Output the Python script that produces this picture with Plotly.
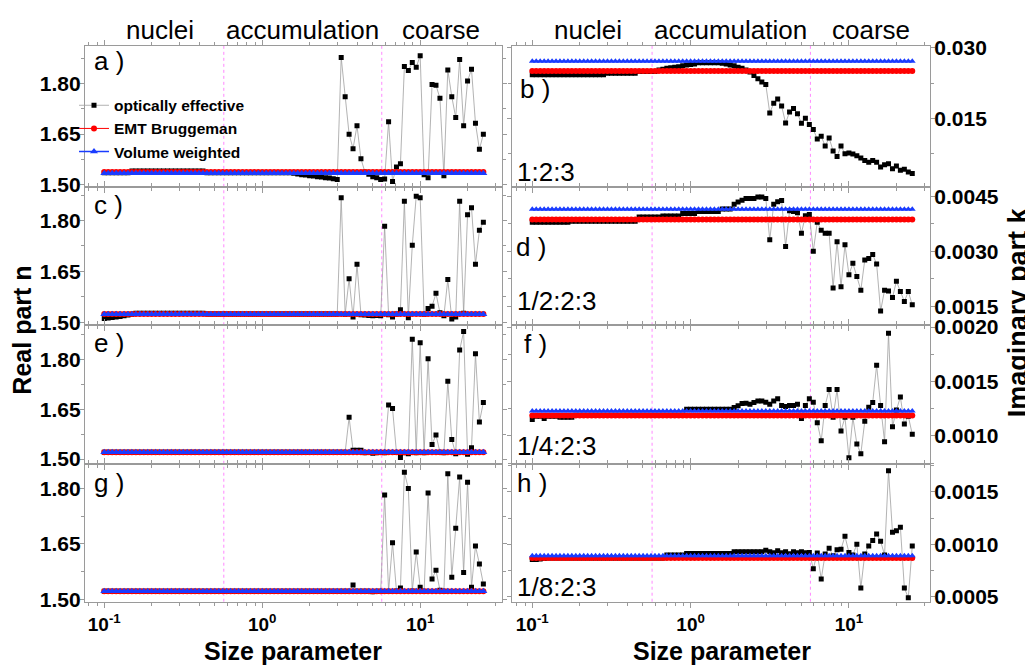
import plotly.graph_objects as go

# ---------------- data ----------------
SIZE_PARAM = [0.1, 0.1059, 0.1122, 0.1189, 0.1259, 0.1334, 0.1413, 0.1496, 0.1585, 0.1679,
              0.1778, 0.1884, 0.1995, 0.2113, 0.2239, 0.2371, 0.2512, 0.2661, 0.2818, 0.2985,
              0.3162, 0.335, 0.3548, 0.3758, 0.3981, 0.4217, 0.4467, 0.4732, 0.5012, 0.5309,
              0.5623, 0.5957, 0.631, 0.6683, 0.7079, 0.7499, 0.7943, 0.8414, 0.8913, 0.9441,
              1.0, 1.059, 1.122, 1.189, 1.259, 1.334, 1.413, 1.496, 1.585, 1.679,
              1.778, 1.884, 1.995, 2.113, 2.239, 2.371, 2.512, 2.661, 2.818, 2.985,
              3.162, 3.35, 3.548, 3.758, 3.981, 4.217, 4.467, 4.732, 5.012, 5.309,
              5.623, 5.957, 6.31, 6.683, 7.079, 7.499, 7.943, 8.414, 8.913, 9.441,
              10.0, 10.59, 11.22, 11.89, 12.59, 13.34, 14.13, 14.96, 15.85, 16.79,
              17.78, 18.84, 19.95, 21.13, 22.39, 23.71, 25.12]

MODE_NAMES = ["nuclei", "accumulation", "coarse"]
MODE_BOUNDS = [0.5712, 5.712]
MIXING_RATIOS = ["1:2:3", "1/2:2:3", "1/4:2:3", "1/8:2:3"]
PANEL_LETTERS = [["a )", "b )"], ["c )", "d )"], ["e )", "f )"], ["g )", "h )"]]
SERIES_NAMES = ["optically effective", "EMT Bruggeman", "Volume weighted"]

X_TICKS = [0.1, 1, 10]
X_TICK_TEXT = ["10<sup>-1</sup>", "10<sup>0</sup>", "10<sup>1</sup>"]
X_MINOR = [0.08, 0.09, 0.2, 0.3, 0.4, 0.5, 0.6, 0.7, 0.8, 0.9,
           2, 3, 4, 5, 6, 7, 8, 9, 20, 30]

# real part n, optically effective
N_EFF_A = [1.536, 1.536, 1.536, 1.536, 1.536, 1.536, 1.536, 1.541, 1.541, 1.541,
           1.541, 1.541, 1.541, 1.541, 1.541, 1.541, 1.541, 1.541, 1.541, 1.541,
           1.541, 1.541, 1.541, 1.541, 1.541, 1.541, 1.536, 1.536, 1.536, 1.536,
           1.536, 1.536, 1.536, 1.536, 1.536, 1.536, 1.536, 1.536, 1.536, 1.536,
           1.536, 1.536, 1.536, 1.536, 1.536, 1.536, 1.536, 1.536, 1.534, 1.532,
           1.530, 1.529, 1.527, 1.526, 1.524, 1.523, 1.521, 1.520, 1.518, 1.516,
           1.877, 1.761, 1.650, 1.607, 1.675, 1.577, 1.538, 1.531, 1.524, 1.521,
           1.516, 1.517, 1.687, 1.510, 1.553, 1.562, 1.850, 1.838, 1.862, 1.848,
           1.882, 1.530, 1.521, 1.797, 1.795, 1.756, 1.527, 1.840, 1.761, 1.699,
           1.871, 1.675, 1.807, 1.842, 1.682, 1.605, 1.650]
N_EFF_C = [1.511, 1.512, 1.514, 1.515, 1.517, 1.519, 1.521, 1.523, 1.526, 1.526,
           1.526, 1.526, 1.526, 1.526, 1.526, 1.526, 1.526, 1.526, 1.526, 1.526,
           1.526, 1.526, 1.526, 1.526, 1.526, 1.526, 1.524, 1.524, 1.524, 1.524,
           1.524, 1.524, 1.524, 1.524, 1.524, 1.524, 1.524, 1.524, 1.524, 1.524,
           1.524, 1.524, 1.524, 1.524, 1.524, 1.524, 1.524, 1.524, 1.524, 1.524,
           1.524, 1.524, 1.524, 1.524, 1.524, 1.524, 1.524, 1.524, 1.524, 1.524,
           1.867, 1.523, 1.628, 1.515, 1.671, 1.522, 1.521, 1.520, 1.519, 1.520,
           1.519, 1.783, 1.522, 1.515, 1.524, 1.537, 1.857, 1.513, 1.727, 1.872,
           1.867, 1.523, 1.540, 1.547, 1.585, 1.528, 1.519, 1.626, 1.509, 1.515,
           1.857, 1.526, 1.817, 1.838, 1.671, 1.771, 1.795]
N_EFF_E = [1.521, 1.521, 1.521, 1.521, 1.521, 1.521, 1.521, 1.521, 1.521, 1.521,
           1.521, 1.521, 1.521, 1.521, 1.521, 1.521, 1.521, 1.521, 1.521, 1.521,
           1.521, 1.521, 1.521, 1.521, 1.521, 1.521, 1.521, 1.521, 1.521, 1.521,
           1.521, 1.521, 1.521, 1.521, 1.521, 1.521, 1.521, 1.521, 1.521, 1.521,
           1.521, 1.521, 1.521, 1.521, 1.521, 1.521, 1.521, 1.521, 1.521, 1.521,
           1.521, 1.521, 1.521, 1.521, 1.521, 1.521, 1.521, 1.521, 1.521, 1.521,
           1.521, 1.521, 1.626, 1.527, 1.527, 1.527, 1.519, 1.520, 1.518, 1.519,
           1.520, 1.519, 1.663, 1.653, 1.520, 1.505, 1.519, 1.516, 1.862, 1.519,
           1.851, 1.519, 1.803, 1.544, 1.573, 1.521, 1.519, 1.735, 1.559, 1.516,
           1.829, 1.885, 1.515, 1.534, 1.818, 1.612, 1.671]
N_EFF_G = [1.522, 1.522, 1.522, 1.522, 1.522, 1.522, 1.522, 1.522, 1.522, 1.522,
           1.522, 1.522, 1.522, 1.522, 1.522, 1.522, 1.522, 1.522, 1.522, 1.522,
           1.522, 1.522, 1.522, 1.522, 1.522, 1.522, 1.522, 1.522, 1.522, 1.522,
           1.522, 1.522, 1.522, 1.522, 1.522, 1.522, 1.522, 1.522, 1.522, 1.522,
           1.522, 1.522, 1.522, 1.522, 1.522, 1.522, 1.522, 1.522, 1.522, 1.522,
           1.522, 1.522, 1.522, 1.522, 1.522, 1.522, 1.522, 1.522, 1.522, 1.522,
           1.522, 1.522, 1.522, 1.539, 1.522, 1.522, 1.522, 1.522, 1.521, 1.522,
           1.522, 1.782, 1.522, 1.653, 1.523, 1.531, 1.843, 1.799, 1.523, 1.628,
           1.533, 1.522, 1.787, 1.555, 1.579, 1.525, 1.522, 1.839, 1.560, 1.692,
           1.830, 1.573, 1.816, 1.533, 1.644, 1.596, 1.542]

# imaginary part k, optically effective
K_EFF_B = [0.0243, 0.0243, 0.0243, 0.0243, 0.0243, 0.0243, 0.0243, 0.0243, 0.0243, 0.0243,
           0.0243, 0.0243, 0.0243, 0.0243, 0.0243, 0.0243, 0.0243, 0.0243, 0.0243, 0.02465,
           0.02465, 0.02465, 0.02465, 0.02465, 0.02465, 0.02465, 0.02465, 0.0250, 0.0250, 0.0250,
           0.0250, 0.0250, 0.0253, 0.0255, 0.0257, 0.0258, 0.0259, 0.0260, 0.0262, 0.0264,
           0.0265, 0.0266, 0.02686, 0.02686, 0.02686, 0.02686, 0.02686, 0.02686, 0.02675, 0.0266,
           0.0264, 0.0262, 0.0259, 0.0257, 0.0253, 0.0249, 0.02417, 0.02347, 0.02279, 0.02223,
           0.01618, 0.01824, 0.01913, 0.01766, 0.01404, 0.01638, 0.01714, 0.01603, 0.01397, 0.01507,
           0.01374, 0.01266, 0.01066, 0.01122, 0.00915, 0.01087, 0.00812, 0.00694, 0.00915, 0.00750,
           0.00765, 0.00744, 0.00709, 0.00661, 0.00605, 0.00570, 0.00605, 0.00570, 0.00467, 0.00517,
           0.00537, 0.00434, 0.00488, 0.00399, 0.00420, 0.00364, 0.00331]
K_EFF_D = [0.00379, 0.00379, 0.00379, 0.00379, 0.00379, 0.00379, 0.00379, 0.00379, 0.00379, 0.00379,
           0.00382, 0.00382, 0.00382, 0.00382, 0.00382, 0.00382, 0.00382, 0.00382, 0.00382, 0.00382,
           0.00382, 0.00382, 0.00382, 0.00382, 0.00382, 0.00382, 0.00382, 0.00393, 0.00393, 0.00393,
           0.00393, 0.00393, 0.00393, 0.00396, 0.00396, 0.00396, 0.00396, 0.00396, 0.00403, 0.00403,
           0.00403, 0.00403, 0.00408, 0.00408, 0.00408, 0.00408, 0.00408, 0.00408, 0.00415, 0.00415,
           0.00415, 0.00428, 0.00434, 0.00439, 0.00444, 0.00444, 0.00444, 0.00448, 0.00448, 0.00444,
           0.00331, 0.00428, 0.00435, 0.00438, 0.00313, 0.00410, 0.00408, 0.00405, 0.00349, 0.00397,
           0.00400, 0.00300, 0.00379, 0.00357, 0.00349, 0.00349, 0.00200, 0.00326, 0.00203, 0.00318,
           0.00236, 0.00267, 0.00231, 0.00194, 0.00276, 0.00280, 0.00291, 0.00265, 0.00137, 0.00194,
           0.00192, 0.00174, 0.00218, 0.00190, 0.00163, 0.00190, 0.00154]
K_EFF_F = [0.00115, 0.00118, 0.00118, 0.00116, 0.00118, 0.00118, 0.00118, 0.00117, 0.00117, 0.00117,
           0.00117, 0.00119, 0.00119, 0.00119, 0.00119, 0.00119, 0.00119, 0.00119, 0.00119, 0.00119,
           0.00119, 0.00119, 0.00119, 0.00119, 0.00119, 0.00119, 0.00119, 0.00119, 0.00119, 0.00119,
           0.00119, 0.00119, 0.00119, 0.00119, 0.00119, 0.00119, 0.00119, 0.00119, 0.00119, 0.001244,
           0.001244, 0.001244, 0.001244, 0.001244, 0.001244, 0.001244, 0.001244, 0.001244, 0.001244, 0.001244,
           0.001244, 0.00126, 0.001277, 0.001298, 0.0013, 0.00129, 0.001307, 0.00132, 0.00132, 0.00131,
           0.00129, 0.00132, 0.00134, 0.00128, 0.00127, 0.00128, 0.00128, 0.00129, 0.00116, 0.00128,
           0.00134, 0.00131, 0.00112, 0.000955, 0.00128, 0.001426, 0.00117, 0.001426, 0.001045, 0.00117,
           0.000798, 0.00117, 0.000926, 0.000836, 0.001134, 0.001262, 0.001307, 0.001649, 0.00128, 0.000946,
           0.001943, 0.001083, 0.001238, 0.001357, 0.00111, 0.00118, 0.001015]
K_EFF_H = [0.000855, 0.000855, 0.00086, 0.000865, 0.00087, 0.00087, 0.00087, 0.00087, 0.00087, 0.00087,
           0.00087, 0.00087, 0.00087, 0.00087, 0.00087, 0.00087, 0.00087, 0.00087, 0.00087, 0.00087,
           0.00087, 0.00087, 0.00087, 0.00087, 0.00087, 0.00087, 0.00087, 0.00087, 0.00087, 0.00087,
           0.00087, 0.00087, 0.00087, 0.00087, 0.0009, 0.0009, 0.0009, 0.0009, 0.0009, 0.000914,
           0.000914, 0.000914, 0.000914, 0.000914, 0.000914, 0.000914, 0.000914, 0.000914, 0.000914, 0.000914,
           0.000914, 0.00093, 0.00093, 0.00093, 0.00093, 0.00093, 0.00093, 0.00093, 0.00093, 0.000945,
           0.00093, 0.00092, 0.00094, 0.00092, 0.00093, 0.00091, 0.00093, 0.00092, 0.00093, 0.00092,
           0.000923, 0.000769, 0.000917, 0.000671, 0.000908, 0.000963, 0.000892, 0.000948, 0.000954, 0.001077,
           0.000923, 0.0009, 0.001, 0.000585, 0.000908, 0.000985, 0.001037, 0.001098, 0.00103, 0.0009,
           0.0017, 0.001114, 0.001129, 0.001163, 0.000585, 0.000492, 0.000985]

# size-independent mixing rules (one value per panel row)
N_EMT = [1.538, 1.524, 1.521, 1.522]
N_VOL = [1.534, 1.523, 1.521, 1.522]
K_EMT = [0.02512, 0.003864, 0.001187, 0.000871]
K_VOL = [0.02719, 0.004147, 0.001229, 0.000892]

N_EFF = [N_EFF_A, N_EFF_C, N_EFF_E, N_EFF_G]
K_EFF = [K_EFF_B, K_EFF_D, K_EFF_F, K_EFF_H]

# ---------------- layout helpers ----------------
W, H = 1025, 669
FONT = "Liberation Sans, Arial, sans-serif"
FRAME = "#9a9a9a"
COLS_PX = [(85, 502), (512, 930)]
ROWS_PX = [(37, 182), (182, 324.5), (324.5, 467), (467, 609)]
X_RANGES = [[-1.122, 1.518], [-1.128, 1.512]]
N_RANGES = [[1.494, 1.911], [1.4908, 1.8995], [1.486, 1.904], [1.494, 1.866]]
K_RANGES = [[0.000476, 0.03043], [0.000983, 0.004755], [0.000744, 0.002016], [0.000455, 0.001766]]
K_TICKS = [(0.015, ".3f"), (0.0015, ".4f"), (0.0005, ".4f"), (0.0005, ".4f")]

def fx(p):
    return p / W

def fy(p):
    return 1 - p / H

fig = go.Figure()
layout = dict(width=W, height=H, margin=dict(l=0, r=0, t=0, b=0), autosize=False,
              paper_bgcolor="white", plot_bgcolor="white",
              font=dict(family=FONT, color="black"))
shapes = []
annotations = []

for r in range(4):
    for c in range(2):
        k = r * 2 + c + 1
        xa = "x" if k == 1 else f"x{k}"
        ya = "y" if k == 1 else f"y{k}"
        if c == 0:
            eff, emt, vol = N_EFF[r], N_EMT[r], N_VOL[r]
        else:
            eff, emt, vol = K_EFF[r], K_EMT[r], K_VOL[r]
        show = (k == 1)
        fig.add_trace(go.Scatter(
            x=SIZE_PARAM, y=eff, xaxis=xa, yaxis=ya, mode="lines+markers",
            name=SERIES_NAMES[0], showlegend=show, legendgroup="eff",
            line=dict(color="#a0a0a0", width=0.8),
            marker=dict(symbol="square", size=5, color="black")))
        fig.add_trace(go.Scatter(
            x=SIZE_PARAM, y=[emt] * len(SIZE_PARAM), xaxis=xa, yaxis=ya, mode="lines+markers",
            name=SERIES_NAMES[1], showlegend=show, legendgroup="emt",
            line=dict(color="#ff0000", width=1),
            marker=dict(symbol="circle", size=6, color="#ff0000")))
        fig.add_trace(go.Scatter(
            x=SIZE_PARAM, y=[vol] * len(SIZE_PARAM), xaxis=xa, yaxis=ya, mode="lines+markers",
            name=SERIES_NAMES[2], showlegend=show, legendgroup="vol",
            line=dict(color="#1a3cff", width=1.5),
            marker=dict(symbol="triangle-up", size=(7 if c == 0 else 6), color="#1a3cff")))

        x0p, x1p = COLS_PX[c]
        t, b = ROWS_PX[r]
        xkey = "xaxis" if k == 1 else f"xaxis{k}"
        ykey = "yaxis" if k == 1 else f"yaxis{k}"
        layout[xkey] = dict(
            domain=[fx(x0p), fx(x1p)], anchor=ya, type="log", range=X_RANGES[c],
            tickmode="array", tickvals=X_TICKS, ticktext=X_TICK_TEXT,
            showticklabels=(r == 3), ticks="outside", ticklen=5, tickwidth=1, tickcolor=FRAME,
            showline=True, linecolor=FRAME, linewidth=1.2, mirror="ticks",
            showgrid=False, zeroline=False,
            tickfont=dict(family=FONT, size=19, color="black", weight="bold"),
            minor=dict(tickmode="array", tickvals=X_MINOR, ticks="outside", ticklen=3,
                       tickcolor=FRAME, showgrid=False))
        if c == 0:
            yextra = dict(range=N_RANGES[r], tickmode="linear", tick0=1.5, dtick=0.15,
                          tickformat=".2f", side="left",
                          minor=dict(dtick=0.075, tick0=1.5, ticks="outside", ticklen=3,
                                     tickcolor=FRAME, showgrid=False))
        else:
            dt, fmt = K_TICKS[r]
            yextra = dict(range=K_RANGES[r], tickmode="linear", tick0=0, dtick=dt,
                          tickformat=fmt, side="right",
                          minor=dict(dtick=dt / 2, tick0=0, ticks="outside", ticklen=3,
                                     tickcolor=FRAME, showgrid=False))
        layout[ykey] = dict(
            domain=[fy(b), fy(t)], anchor=xa,
            ticks="outside", ticklen=4, tickwidth=1, tickcolor=FRAME,
            showline=True, linecolor=FRAME, linewidth=1.2, mirror="ticks",
            showgrid=False, zeroline=False, ticklabelstandoff=-5,
            tickfont=dict(family=FONT, size=21, color="black", weight="bold"),
            **yextra)

        for bound in MODE_BOUNDS:
            shapes.append(dict(type="line", xref=xa, yref=f"{ya} domain",
                               x0=bound, x1=bound, y0=0, y1=1,
                               line=dict(color="#ff88ff", width=1, dash="dot"), layer="below"))

# panel letters
LETTER_POS = [[(92, 52), (518, 81)], [(92, 201), (514, 244)],
              [(92, 343), (522, 344)], [(92, 487), (515, 487)]]
for r in range(4):
    for c in range(2):
        px, py = LETTER_POS[r][c]
        annotations.append(dict(text=PANEL_LETTERS[r][c], x=fx(px), y=fy(py), xref="paper", yref="paper",
                                xanchor="left", yanchor="middle", showarrow=False,
                                font=dict(family=FONT, size=26, color="black")))
RATIO_POS = [(515, 167), (515, 299), (515, 449), (515, 594)]
for r in range(4):
    px, py = RATIO_POS[r]
    annotations.append(dict(text=MIXING_RATIOS[r], x=fx(px), y=fy(py), xref="paper", yref="paper",
                            xanchor="left", yanchor="middle", showarrow=False,
                            font=dict(family=FONT, size=26, color="black")))

# mode titles
MODE_X = [[160, 302, 441], [588, 730, 871]]
for c in range(2):
    for name, px in zip(MODE_NAMES, MODE_X[c]):
        annotations.append(dict(text=name, x=fx(px), y=fy(21), xref="paper", yref="paper",
                                xanchor="center", yanchor="middle", showarrow=False,
                                font=dict(family=FONT, size=26, color="black")))

# axis titles
for px in (293, 722):
    annotations.append(dict(text="<b>Size parameter</b>", x=fx(px), y=fy(660), xref="paper", yref="paper",
                            xanchor="center", yanchor="middle", showarrow=False,
                            font=dict(family=FONT, size=25, color="black")))
annotations.append(dict(text="<b>Real part n</b>", x=fx(22), y=fy(330), xref="paper", yref="paper",
                        xanchor="center", yanchor="middle", textangle=-90, showarrow=False,
                        font=dict(family=FONT, size=25, color="black")))
annotations.append(dict(text="<b>Imaginary part k</b>", x=fx(1018), y=fy(311), xref="paper", yref="paper",
                        xanchor="center", yanchor="middle", textangle=-90, showarrow=False,
                        font=dict(family=FONT, size=27, color="black")))

layout["shapes"] = shapes
layout["annotations"] = annotations
layout["legend"] = dict(x=fx(74), y=fy(81), xanchor="left", yanchor="top",
                        bgcolor="rgba(0,0,0,0)", itemwidth=30, tracegroupgap=0,
                        font=dict(family=FONT, size=15.5, color="black", weight="bold"))
layout["showlegend"] = True
fig.update_layout(**layout)
fig.write_html("out.html", config={"displayModeBar": False},
               post_script="document.body.style.margin='0px';document.body.style.overflow='hidden';")
